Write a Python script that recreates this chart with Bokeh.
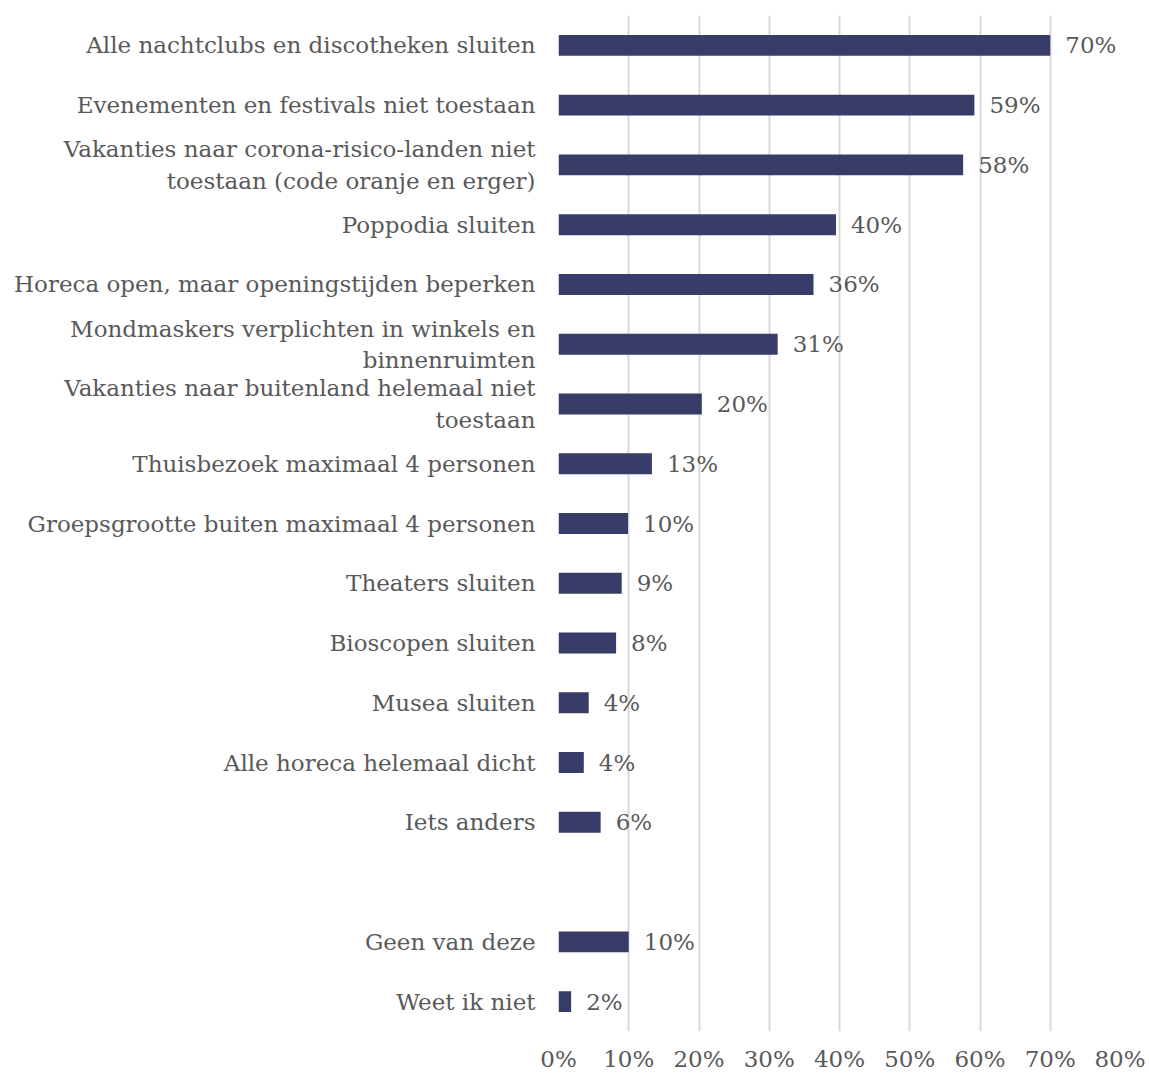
from bokeh.plotting import figure
from bokeh.models import ColumnDataSource, FactorRange, FixedTicker, PrintfTickFormatter
from bokeh.core.properties import value
from bokeh.embed import file_html
from bokeh.resources import INLINE

categories = [
    "Alle nachtclubs en discotheken sluiten",
    "Evenementen en festivals niet toestaan",
    "Vakanties naar corona-risico-landen niet\ntoestaan (code oranje en erger)",
    "Poppodia sluiten",
    "Horeca open, maar openingstijden beperken",
    "Mondmaskers verplichten in winkels en\nbinnenruimten",
    "Vakanties naar buitenland helemaal niet\ntoestaan",
    "Thuisbezoek maximaal 4 personen",
    "Groepsgrootte buiten maximaal 4 personen",
    "Theaters sluiten",
    "Bioscopen sluiten",
    "Musea sluiten",
    "Alle horeca helemaal dicht",
    "Iets anders",
    " ",
    "Geen van deze",
    "Weet ik niet",
]
values = [70.0, 59.2, 57.6, 39.5, 36.3, 31.2, 20.4, 13.3, 9.9, 9.0, 8.2, 4.3, 3.6, 6.0, None, 10.0, 1.8]
x_ticks = [0, 10, 20, 30, 40, 50, 60, 70, 80]

cats = [c for c, v in zip(categories, values) if v is not None]
vals = [v for v in values if v is not None]
labels = [f"{round(v)}%" for v in vals]
src = ColumnDataSource(dict(cat=cats, val=vals, lab=labels))

FONT = "DejaVu Serif"
TXT = "#595959"
FS = "23px"

p = figure(
    width=1145, height=1074,
    y_range=FactorRange(*reversed(categories), range_padding=0),
    x_range=(0, 80),
    output_backend="svg", toolbar_location=None,
    min_border_left=558, min_border_right=25, min_border_top=15, min_border_bottom=38,
)
p.outline_line_color = None
p.background_fill_color = "white"

p.hbar(y="cat", right="val", height=0.35, source=src, color="#383C69", line_color=None)

p.text(x="val", y="cat", text="lab", source=src, x_offset=15,
       text_baseline="middle", text_align="left", text_font=value(FONT),
       text_font_size=FS, text_color=TXT)

p.xgrid.ticker = FixedTicker(ticks=x_ticks)
p.xgrid.grid_line_color = "#D9D9D9"
p.xgrid.grid_line_width = 2
p.ygrid.grid_line_color = None

p.xaxis.ticker = FixedTicker(ticks=x_ticks)
p.xaxis.formatter = PrintfTickFormatter(format="%d%%")
p.xaxis.axis_line_color = None
p.xaxis.major_tick_line_color = None
p.xaxis.minor_tick_line_color = None
p.xaxis.major_label_text_font = FONT
p.xaxis.major_label_text_font_size = FS
p.xaxis.major_label_text_color = TXT
p.xaxis.major_label_standoff = 8

p.yaxis.axis_line_color = None
p.yaxis.major_tick_line_color = None
p.yaxis.minor_tick_line_color = None
p.yaxis.major_label_text_font = FONT
p.yaxis.major_label_text_font_size = FS
p.yaxis.major_label_text_color = TXT
p.yaxis.major_label_standoff = 17

open("out.html", "w").write(file_html(p, INLINE))
